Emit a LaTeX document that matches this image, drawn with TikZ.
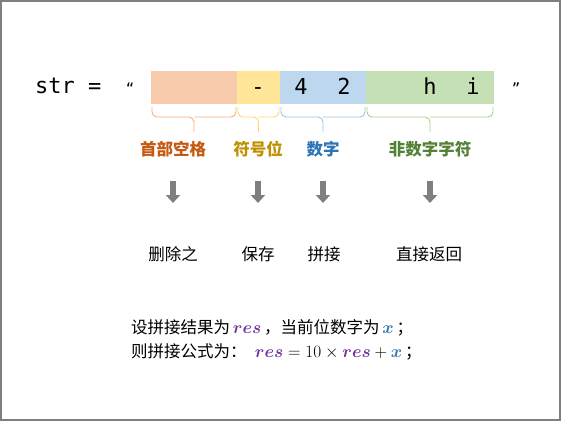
\documentclass[tikz,border=0pt]{standalone}
\usepackage{fontspec}
\usepackage{amsmath,bm}
\usepackage{xcolor}
\setmainfont{Noto Sans CJK SC}
\newfontfamily\monofont{DejaVu Sans Mono}
\usetikzlibrary{arrows.meta,calc}
\definecolor{cOrgF}{HTML}{F8CBAD}
\definecolor{cYelF}{HTML}{FFE699}
\definecolor{cBluF}{HTML}{BDD7EE}
\definecolor{cGrnF}{HTML}{C5E0B4}
\definecolor{cOrgB}{HTML}{F4B183}
\definecolor{cYelB}{HTML}{FFD966}
\definecolor{cBluB}{HTML}{9DC3E6}
\definecolor{cGrnB}{HTML}{A9D18E}
\definecolor{cOrgT}{HTML}{C55A11}
\definecolor{cYelT}{HTML}{BF9000}
\definecolor{cBluT}{HTML}{2E75B6}
\definecolor{cGrnT}{HTML}{538135}
\definecolor{cPurp}{HTML}{7030A0}
\definecolor{cGris}{HTML}{7F7F7F}

\begin{document}
\begin{tikzpicture}[
  x=1pt,y=-1pt,
  cell/.style={minimum height=33pt,inner sep=0pt,outer sep=0pt},
  chr/.style={font=\monofont\fontsize{22}{22}\selectfont,anchor=base,inner sep=0pt},
  qt/.style={font=\monofont\fontsize{14}{14}\selectfont,anchor=base,inner sep=0pt},
  brc/.style={line width=0.9pt,rounded corners=5pt},
  tag/.style={font=\fontsize{16.5}{18}\selectfont\bfseries,inner sep=0pt},
  act/.style={font=\fontsize{16.5}{18}\selectfont,inner sep=0pt},
  down/.style={-{Triangle[length=8pt,width=14pt]},line width=6pt,draw=cGris,
               shorten <=31pt,shorten >=51pt}
]
\useasboundingbox (0,0) rectangle (561,421);
\draw[cGris,line width=2pt] (1,1) rectangle (560,420);

% ---- string
\node[chr,anchor=base west] (str) at (35,93) {str =};
\node[qt] (ql) at (130,93) {“};
\node[cell,fill=cOrgF,minimum width=86pt]  (c1) at (194,87.5) {};
\node[cell,fill=cYelF,minimum width=43pt]  (c2) at (258.5,87.5) {};
\node[cell,fill=cBluF,minimum width=86pt]  (c3) at (323,87.5) {};
\node[cell,fill=cGrnF,minimum width=128pt] (c4) at (430,87.5) {};
\node[chr] (m1) at (258,94) {-};
\node[chr] (d1) at (301,94) {4};
\node[chr] (d2) at (344,94) {2};
\node[chr] (h1) at (430,94) {h};
\node[chr] (h2) at (473,94) {i};
\node[qt] (qr) at (516,93) {”};

% ---- braces
\foreach \c/\col in {c1/cOrgB,c2/cYelB,c3/cBluB,c4/cGrnB}{
  \draw[brc,\col] ([xshift=1pt,yshift=-3pt]\c.south west) |- ($(\c.south)+(0,13)$) -- ++(0,15);
  \draw[brc,\col] ([xshift=-1pt,yshift=-3pt]\c.south east) |- ($(\c.south)+(0,13)$);
}

% ---- labels
\node[tag,text=cOrgT] (l1) at (173,149.5) {首部空格};
\node[tag,text=cYelT] (l2) at (258,149.5) {符号位};
\node[tag,text=cBluT] (l3) at (323,149.5) {数字};
\node[tag,text=cGrnT] (l4) at (430,149.5) {非数字字符};

% ---- actions
\node[act] (a1) at (173,254) {删除之};
\node[act] (a2) at (258,254) {保存};
\node[act] (a3) at (324,254) {拼接};
\node[act] (a4) at (429,254) {直接返回};

\foreach \i in {1,...,4}
  \draw[down] (l\i.center) -- (l\i.center |- a\i.center);

% ---- formula
\node[act,anchor=west] (f1) at (131,328)
  {设拼接结果为\,\textcolor{cPurp}{$\bm{res}$}\,，当前位数字为\,\textcolor{cBluT}{$\bm{x}$}\,；};
\node[act,anchor=west] (f2) at (131,352)
  {则拼接公式为：\; $\textcolor{cPurp}{\bm{res}} = 10 \times \textcolor{cPurp}{\bm{res}} + \textcolor{cBluT}{\bm{x}}$\,；};
\end{tikzpicture}
\end{document}
